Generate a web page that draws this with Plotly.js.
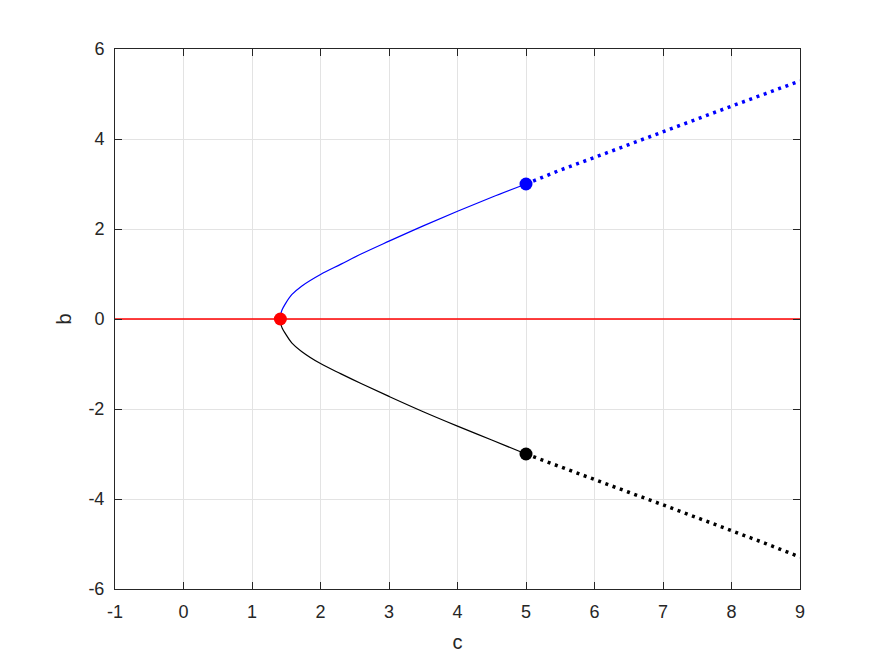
<!DOCTYPE html>
<html>
<head>
<meta charset="utf-8">
<script src="https://cdn.plot.ly/plotly-3.0.1.min.js"></script>
<style>
  html, body { margin: 0; padding: 0; background: #ffffff; }
  #plot { width: 883px; height: 662px; }
</style>
</head>
<body>
<div id="plot"></div>
<script>
// upper branch, solid part
const upperSolidC = [1.414, 1.42, 1.438, 1.48, 1.58, 1.724, 2.0, 2.3, 2.6, 3.0, 3.5, 4.0, 4.5, 5.0];
const upperSolidB = [0, 0.1, 0.2, 0.32, 0.54, 0.73, 0.99, 1.22, 1.45, 1.73, 2.07, 2.395, 2.705, 3.0];

// lower branch, solid part
const lowerSolidC = [1.414, 1.42, 1.44, 1.49, 1.58, 1.724, 2.0, 2.3, 2.6, 3.0, 3.5, 4.0, 4.5, 5.0];
const lowerSolidB = [0, -0.1, -0.2, -0.33, -0.53, -0.72, -0.99, -1.22, -1.44, -1.72, -2.06, -2.38, -2.69, -3.0];

// dotted continuations
const upperDotC = [5, 5.5, 6, 6.5, 7, 7.5, 8, 8.5, 9];
const upperDotB = [3.0, 3.31, 3.59, 3.88, 4.16, 4.45, 4.73, 5.01, 5.29];
const lowerDotC = [5, 5.5, 6, 6.5, 7, 7.5, 8, 8.5, 9];
const lowerDotB = [-3.0, -3.29, -3.57, -3.85, -4.13, -4.41, -4.70, -4.99, -5.29];

// trivial branch b = 0
const zeroC = [-1, 9];
const zeroB = [0, 0];

// special points
const pitchforkC = [1.414];
const pitchforkB = [0];
const upperEndC = [5];
const upperEndB = [3];
const lowerEndC = [5];
const lowerEndB = [-3];

// tick labels (plain hyphen, as in the original)
const xTickVals = [-1, 0, 1, 2, 3, 4, 5, 6, 7, 8, 9];
const xTickText = ["-1", "0", "1", "2", "3", "4", "5", "6", "7", "8", "9"];
const yTickVals = [-6, -4, -2, 0, 2, 4, 6];
const yTickText = ["-6", "-4", "-2", "0", "2", "4", "6"];

const axisColor = "#262626";
const fontFamily = "Liberation Sans, Arial, sans-serif";

let data = [
  {
    x: zeroC, y: zeroB, mode: "lines",
    line: { color: "#ff0000", width: 1.3 },
  },
  {
    x: upperSolidC, y: upperSolidB, mode: "lines",
    line: { color: "#0000ff", width: 1.2, shape: "spline" },
  },
  {
    x: lowerSolidC, y: lowerSolidB, mode: "lines",
    line: { color: "#000000", width: 1.2, shape: "spline" },
  },
  {
    x: upperDotC, y: upperDotB, mode: "lines",
    line: { color: "#0000ff", width: 3.5, dash: "3px,4.7px" },
  },
  {
    x: lowerDotC, y: lowerDotB, mode: "lines",
    line: { color: "#000000", width: 3.5, dash: "3px,4.7px" },
  },
  {
    x: pitchforkC, y: pitchforkB, mode: "markers",
    marker: { color: "#ff0000", size: 13 },
  },
  {
    x: upperEndC, y: upperEndB, mode: "markers",
    marker: { color: "#0000ff", size: 13 },
  },
  {
    x: lowerEndC, y: lowerEndB, mode: "markers",
    marker: { color: "#000000", size: 13 },
  },
];

let axisCommon = {
  showline: true,
  linecolor: axisColor,
  linewidth: 1,
  mirror: "allticks",
  ticks: "inside",
  ticklen: 7,
  tickwidth: 1,
  tickcolor: axisColor,
  showgrid: true,
  gridcolor: "#e3e3e3",
  gridwidth: 1,
  zeroline: false,
  tickmode: "array",
  tickfont: { family: fontFamily, size: 18, color: axisColor },
};

let layout = {
  width: 883,
  height: 662,
  margin: { l: 115, r: 83, t: 49, b: 73 },
  paper_bgcolor: "#ffffff",
  plot_bgcolor: "#ffffff",
  showlegend: false,
  xaxis: Object.assign({}, axisCommon, {
    range: [-1, 9],
    tickvals: xTickVals,
    ticktext: xTickText,
    ticklabelstandoff: 6,
    title: { text: "c", font: { family: fontFamily, size: 20, color: axisColor }, standoff: 14 },
  }),
  yaxis: Object.assign({}, axisCommon, {
    range: [-6, 6],
    tickvals: yTickVals,
    ticktext: yTickText,
    ticklabelstandoff: 6,
    title: { text: "b", font: { family: fontFamily, size: 20, color: axisColor }, standoff: 11 },
  }),
};

Plotly.newPlot("plot", data, layout, { staticPlot: true });
</script>
</body>
</html>
